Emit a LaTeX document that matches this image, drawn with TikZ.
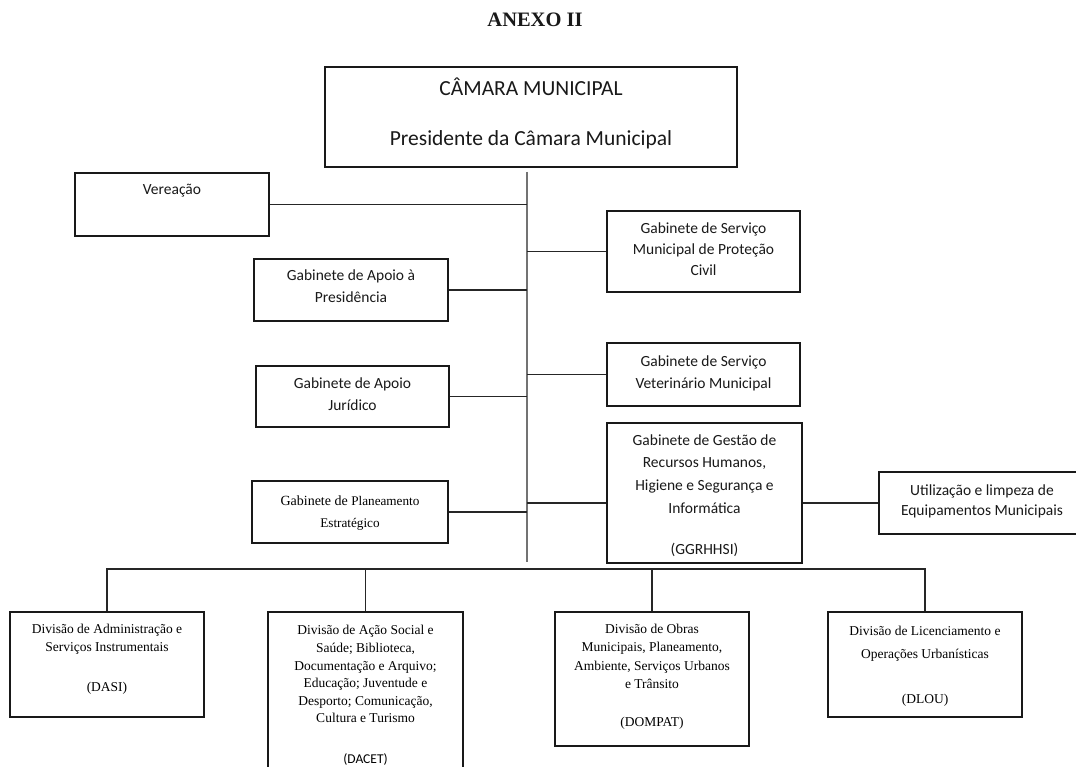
\documentclass[tikz,border=0pt]{standalone}
\usepackage{fontspec}
\newfontfamily\calib{Carlito}
\newfontfamily\tms{Liberation Serif}
\usetikzlibrary{fit}
\tikzset{
  x=1pt, y=-1pt,
  box/.style={draw=black!90, line width=1.4pt, inner sep=0pt},
  conn/.style={draw=black!85, line width=1.4pt},
  trunkline/.style={draw=black!55, line width=1.4pt},
  gtxt/.style={anchor=north, inner sep=0pt, align=center, text=black!90, font=\calib\fontsize{15.5}{22}\selectfont},
  stxt/.style={anchor=north, inner sep=0pt, align=center, text=black, font=\tms\fontsize{13.5}{17.6}\selectfont},
}
\begin{document}
\begin{tikzpicture}
\useasboundingbox (0,0) rectangle (1076,767);
\clip (0,0) rectangle (1076,767);
\fill[white] (0,0) rectangle (1076,767);

% title
\node[anchor=base, inner sep=0pt, text=black!90, font=\tms\bfseries\fontsize{20.5}{24}\selectfont] (title) at (535,27) {ANEXO II};

% top box
\node[box, fit={(325,67)(737,167)}] (cm) {};
\node[anchor=north, inner sep=0pt, align=center, text=black!90, font=\calib\fontsize{21.5}{50}\selectfont] (cmt) at (531,60) {\strut CÂMARA MUNICIPAL\\Presidente da Câmara Municipal};

% trunk
\coordinate (ttop) at (527,172);
\coordinate (tbot) at (527,562);
\draw[trunkline] (ttop) -- (tbot);

% left boxes
\node[box, fit={(75,173)(269,236)}] (ver) {};
\node[gtxt] (vert) at (172,179.1) {\strut Vereação};

\node[box, fit={(254,259)(448,321)}] (pres) {};
\node[gtxt, font=\calib\fontsize{15.5}{21}\selectfont] (prest) at (351,266.1) {\strut Gabinete de Apoio à\\Presidência};

\node[box, fit={(256,366)(449,427)}] (jur) {};
\node[gtxt] (jurt) at (352.5,373.1) {\strut Gabinete de Apoio\\Jurídico};

\node[box, fit={(252,481)(448,543)}] (plan) {};
\node[stxt, font=\tms\fontsize{14}{22}\selectfont] (plant) at (350,489.6) {\strut Gabinete de {\fontsize{13.2}{22}\selectfont Planeamento}\\{\fontsize{13.2}{22}\selectfont Estratégico}};

% right boxes
\node[box, fit={(607,211)(800,292)}] (civ) {};
\node[gtxt, font=\calib\fontsize{15.5}{21}\selectfont] (civt) at (703.5,219.1) {\strut Gabinete de Serviço\\Municipal de Proteção\\Civil};

\node[box, fit={(607,343)(800,406)}] (vet) {};
\node[gtxt] (vett) at (703.5,351.1) {\strut Gabinete de Serviço\\Veterinário Municipal};

\node[box, fit={(607,423)(802,563)}] (ggr) {};
\node[gtxt, font=\calib\fontsize{15.5}{22.7}\selectfont] (ggrt) at (704.5,429.1) {\strut Gabinete de Gestão de\\Recursos Humanos,\\Higiene e Segurança e\\Informática\\[18.3pt](GGRHHSI)};

\node[box, fit={(879,472)(1086,534)}] (util) {};
\node[gtxt, font=\calib\fontsize{15.5}{20}\selectfont] (utilt) at (982,481.1) {\strut Utilização e limpeza de\\Equipamentos Municipais};

% connectors to trunk
\draw[conn] (ver.east) -- (ver.east -| ttop);
\draw[conn] (pres.east) -- (pres.east -| ttop);
\draw[conn] (jur.east) -- (jur.east -| ttop);
\draw[conn] (plan.east) -- (plan.east -| ttop);
\draw[conn] (civ.west) -- (civ.west -| ttop);
\draw[conn] (vet.west) -- (vet.west -| ttop);
\draw[conn] (util.west -| ttop) -- (util.west -| ggr.west);
\draw[conn] (util.west -| ggr.east) -- (util.west);

% divisions
\node[box, fit={(10,612)(204,717)}] (dasi) {};
\node[stxt] (dasit) at (107,621.4) {\strut Divisão de Administração e\\Serviços Instrumentais\\[22.4pt](DASI)};

\node[box, fit={(268,612)(463,800)}] (dacet) {};
\node[stxt] (dacett) at (365.5,622.4) {\strut Divisão de Ação Social e\\Saúde; Biblioteca,\\Documentação e Arquivo;\\Educação; Juventude e\\Desporto; Comunicação,\\Cultura e Turismo\\[23pt]{\calib\fontsize{13.5}{17.6}\selectfont (DACET)}};

\node[box, fit={(555,612)(749,746)}] (dompat) {};
\node[stxt, font=\tms\fontsize{13.5}{18.3}\selectfont] (dompatt) at (652,620.4) {\strut Divisão de Obras\\Municipais, Planeamento,\\Ambiente, Serviços Urbanos\\e Trânsito\\[19.7pt](DOMPAT)};

\node[box, fit={(828,612)(1022,717)}] (dlou) {};
\node[stxt, font=\tms\fontsize{13.5}{22.5}\selectfont] (dlout) at (925,619.9) {\strut Divisão de Licenciamento e\\Operações Urbanísticas\\[22.5pt](DLOU)};

% bottom bar
\coordinate (bar) at (0,569);
\draw[conn, line width=1.5pt] (dasi.north) -- (dasi.north |- bar) -- (dlou.north |- bar) -- (dlou.north);
\draw[conn, line width=1.5pt] (dacet.north) -- (dacet.north |- bar);
\draw[conn, line width=1.5pt] (dompat.north) -- (dompat.north |- bar);
\end{tikzpicture}
\end{document}
